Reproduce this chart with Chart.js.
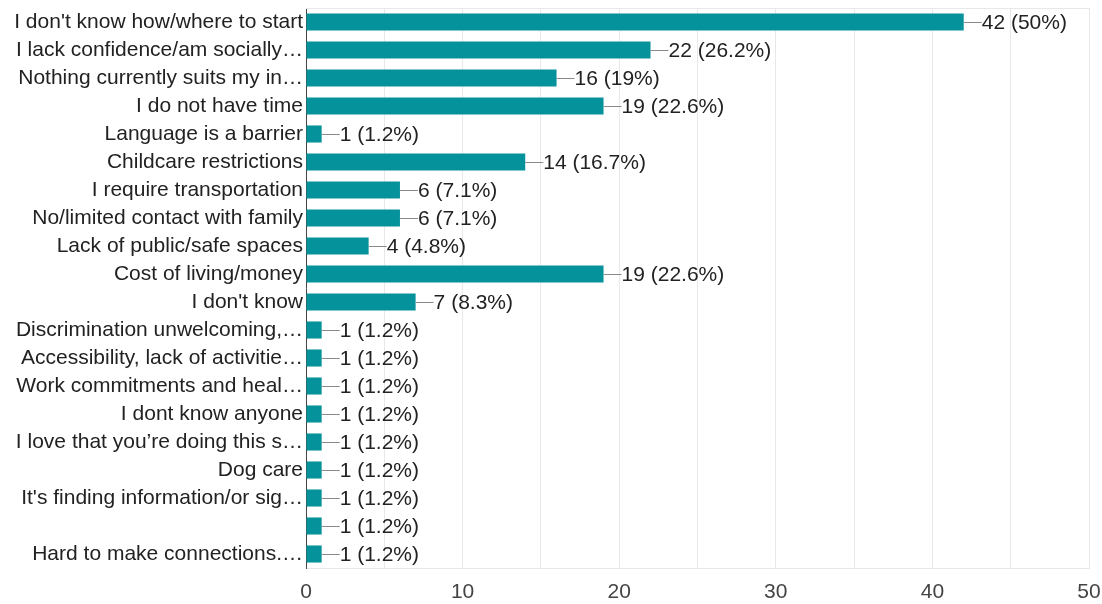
<!DOCTYPE html>
<html>
<head>
<meta charset="utf-8">
<script src="https://cdn.jsdelivr.net/npm/chart.js@4"></script>
<style>
  html, body { margin: 0; padding: 0; background: #fff; }
  #wrap { width: 1102px; height: 604px; }
</style>
</head>
<body>
<div id="wrap"><canvas id="answersChart" width="1102" height="604"></canvas></div>
<script>
// Survey answers
const categories = [
    "I don't know how/where to start",
    "I lack confidence/am socially\u2026",
    "Nothing currently suits my in\u2026",
    "I do not have time",
    "Language is a barrier",
    "Childcare restrictions",
    "I require transportation",
    "No/limited contact with family",
    "Lack of public/safe spaces",
    "Cost of living/money",
    "I don't know",
    "Discrimination unwelcoming,\u2026",
    "Accessibility, lack of activitie\u2026",
    "Work commitments and heal\u2026",
    "I dont know anyone",
    "I love that you\u2019re doing this s\u2026",
    "Dog care",
    "It's finding information/or sig\u2026",
    "",
    "Hard to make connections.\u2026"
];
const counts = [42, 22, 16, 19, 1, 14, 6, 6, 4, 19, 7, 1, 1, 1, 1, 1, 1, 1, 1, 1];
const percents = ['50%', '26.2%', '19%', '22.6%', '1.2%', '16.7%', '7.1%', '7.1%', '4.8%', '22.6%',
    '8.3%', '1.2%', '1.2%', '1.2%', '1.2%', '1.2%', '1.2%', '1.2%', '1.2%', '1.2%'];
const xTicks = [0, 10, 20, 30, 40, 50];

const FONT = '"Liberation Sans", Arial, sans-serif';
const FONT_SIZE = 21;

// draws the connector line + "n (p%)" label after each bar
const valueLabels = {
    id: 'valueLabels',
    afterDatasetsDraw(chart) {
        const c = chart.ctx;
        const meta = chart.getDatasetMeta(0);
        c.save();
        c.font = FONT_SIZE + 'px ' + FONT;
        c.textBaseline = 'middle';
        c.textAlign = 'left';
        meta.data.forEach((bar, i) => {
            const x = bar.x;
            const y = bar.y;
            c.strokeStyle = '#8a8a8a';
            c.lineWidth = 1;
            c.beginPath();
            c.moveTo(x, y + 0.5);
            c.lineTo(x + 18, y + 0.5);
            c.stroke();
            c.fillStyle = '#222';
            c.fillText(counts[i] + ' (' + percents[i] + ')', x + 18, y + 1);
        });
        c.restore();
    }
};

// top border of the plot area
const frame = {
    id: 'frame',
    beforeDatasetsDraw(chart) {
        const a = chart.chartArea;
        const c = chart.ctx;
        c.save();
        c.strokeStyle = '#e8e8e8';
        c.lineWidth = 1;
        c.beginPath();
        c.moveTo(a.left, a.top + 0.5);
        c.lineTo(a.right, a.top + 0.5);
        c.stroke();
        c.restore();
    }
};

const ctx = document.getElementById('answersChart').getContext('2d');
const answersChart = new Chart(ctx, {
    type: 'bar',
    data: {
        labels: categories,
        datasets: [{
            data: counts,
            backgroundColor: '#06929a',
            borderWidth: 0,
            barPercentage: 0.61,
            categoryPercentage: 1
        }]
    },
    options: {
        indexAxis: 'y',
        responsive: false,
        animation: false,
        layout: { padding: { top: 8, right: 13, left: 0, bottom: 0 } },
        scales: {
            x: {
                min: 0,
                max: 50,
                afterFit: s => {
                    s.height = 36;
                    s.paddingLeft = 0;
                    s.paddingRight = 0;
                },
                afterBuildTicks: s => {
                    s.ticks = [];
                    for (let v = 0; v <= 50; v += 5) s.ticks.push({ value: v });
                },
                ticks: {
                    color: '#444',
                    font: { family: FONT, size: FONT_SIZE },
                    padding: 12,
                    maxRotation: 0,
                    autoSkip: false,
                    callback: v => xTicks.includes(v) ? String(v) : ''
                },
                grid: {
                    color: '#e8e8e8',
                    drawTicks: false
                },
                border: { color: '#e8e8e8' }
            },
            y: {
                afterFit: s => {
                    s.width = 306;
                    s.paddingTop = 0;
                    s.paddingBottom = 0;
                },
                ticks: {
                    color: '#222',
                    font: { family: FONT, size: FONT_SIZE },
                    padding: 3,
                    autoSkip: false
                },
                grid: { display: false, drawTicks: false },
                border: { color: '#444', width: 1 }
            }
        },
        plugins: {
            legend: { display: false },
            tooltip: { enabled: false }
        }
    },
    plugins: [frame, valueLabels]
});
</script>
</body>
</html>
